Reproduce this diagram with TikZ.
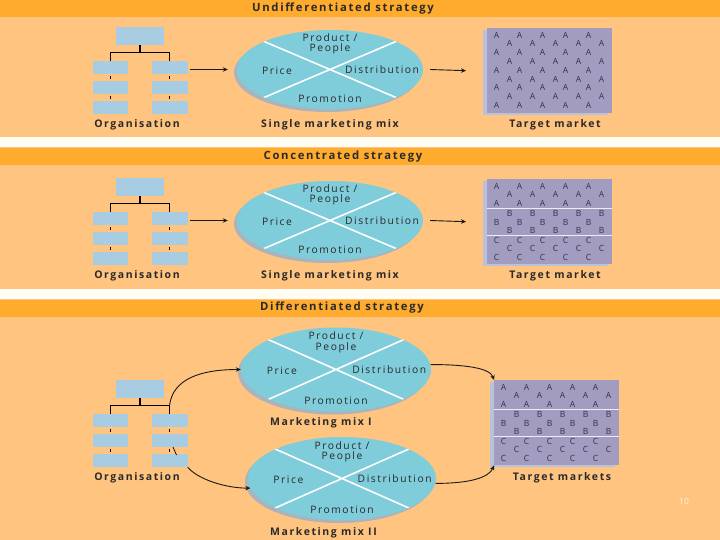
\documentclass[tikz,border=0pt]{standalone}
\usepackage{fontspec}
\setmainfont{Open Sans}[LetterSpace=15]
\newfontfamily\letfont{Open Sans}
\usetikzlibrary{shapes.geometric,calc,arrows.meta}
\definecolor{hdr}{HTML}{FFAB2D}
\definecolor{bodyc}{HTML}{FFC47F}
\definecolor{gapc}{HTML}{FFFDF3}
\definecolor{ellc}{HTML}{7FCCDA}
\definecolor{ellsh}{HTML}{A9B4BC}
\definecolor{oboxc}{HTML}{A8CCE2}
\definecolor{tboxc}{HTML}{A29CC0}
\definecolor{tshc}{HTML}{B9C2DA}
\definecolor{txt}{HTML}{2A2A2A}
\definecolor{lettc}{HTML}{33334A}
\definecolor{pgc}{HTML}{FFF1DA}
\tikzset{
 lbl/.style={font=\fontsize{10.5}{11}\selectfont\bfseries, text=txt, inner sep=0},
 ttl/.style={font=\fontsize{11.3}{12}\selectfont\bfseries, text=txt, inner sep=0},
 mixtxt/.style={font=\fontsize{10.3}{10.3}\selectfont, text=txt, inner sep=0, align=center},
 letter/.style={font=\letfont\fontsize{8.5}{8.5}\selectfont, text=lettc, inner sep=0},
 obox/.style={fill=oboxc, draw=none, inner sep=0},
 orgline/.style={draw=black, line width=1.1pt},
 mixell/.style={ellipse, fill=ellc, inner sep=0,
   preaction={fill=ellsh, transform canvas={xshift=-3pt,yshift=-3pt}},
   path picture={\draw[white, line width=1.6pt]
     (path picture bounding box.north west) -- (path picture bounding box.south east)
     (path picture bounding box.south west) -- (path picture bounding box.north east);}},
 tgt/.style={fill=tboxc, inner sep=0, minimum width=125pt, minimum height=85pt, anchor=north west,
   preaction={fill=tshc, transform canvas={xshift=-4pt,yshift=-2pt}}},
 sepline/.style={draw=white!80!tboxc, line width=0.9pt},
 arr/.style={draw=black!90, line width=0.9pt, -{Stealth[length=5pt,width=4.5pt]}},
}
% org chart: #1 prefix, #2 vertical offset
\newcommand\orgchart[2]{%
 \begin{scope}[shift={(0,#2)}]
  \node[obox, minimum width=48pt, minimum height=18pt] (#1top) at (140,36) {};
  \node[obox, minimum width=35pt, minimum height=13pt] (#1l1) at (110.5,67.5) {};
  \node[obox, minimum width=35pt, minimum height=13pt] (#1l2) at (110.5,87.5) {};
  \node[obox, minimum width=35pt, minimum height=13pt] (#1l3) at (110.5,107.5) {};
  \node[obox, minimum width=36pt, minimum height=13pt] (#1r1) at (169.5,67.5) {};
  \node[obox, minimum width=36pt, minimum height=13pt] (#1r2) at (169.5,87.5) {};
  \node[obox, minimum width=36pt, minimum height=13pt] (#1r3) at (169.5,107.5) {};
 \end{scope}
 \coordinate (#1lj) at ($(#1l1.north)+(0,-8)$);
 \coordinate (#1rj) at ($(#1r1.north)+(0,-8)$);
 \draw[orgline] (#1top.south) -- ($(#1top.south)+(0,8)$);
 \draw[orgline] (#1l1.north) -- (#1lj) -- (#1rj) -- (#1r1.north);
 \draw[orgline] ($(#1l1.south)+(0,1.5)$) -- ($(#1l2.north)+(0,-1.5)$);
 \draw[orgline] ($(#1l2.south)+(0,1.5)$) -- ($(#1l3.north)+(0,-1.5)$);
 \draw[orgline] ($(#1r1.south)+(0,1.5)$) -- ($(#1r2.north)+(0,-1.5)$);
 \draw[orgline] ($(#1r2.south)+(0,1.5)$) -- ($(#1r3.north)+(0,-1.5)$);
}
% mix texts: #1 ellipse name, #2 rx, #3 ry
\newcommand\mixtexts[3]{%
 \node[mixtxt] (#1pp) at ($(#1)+(0,{-0.645*#3})$) {Product /\\People};
 \node[mixtxt] (#1pr) at ($(#1)+({-0.57*#2},1.5)$) {Price};
 \node[mixtxt] (#1di) at ($(#1)+({0.56*#2},0.5)$) {Distribution};
 \node[mixtxt] (#1pm) at ($(#1)+(0,{0.75*#3})$) {Promotion};
}
% target grid: #1 name, #2 left, #3 top, #4 row/letter list
\newcommand\targetgrid[4]{%
 \node[tgt] (#1) at (#2,#3) {};
 \foreach \ry/\ch [count=\r from 0] in {#4} {
   \pgfmathsetmacro{\xo}{ifthenelse(mod(\r,2)==0,9.5,22.5)}
   \foreach \k in {0,...,4} {
     \node[letter] (#1-\r-\k) at ($(#1.north west)+({\xo+23*\k},\ry)$) {\ch};
   }
 }
}
\begin{document}
\begin{tikzpicture}[x=1pt,y=-1pt]
\useasboundingbox (0,0) rectangle (720,540);
\fill[bodyc] (0,0) rectangle (720,540);
\fill[hdr] (0,0) rectangle (720,17.5);
\fill[gapc] (0,137) rectangle (720,147);
\fill[hdr] (0,148) rectangle (720,165.5);
\fill[gapc] (0,289) rectangle (720,298.5);
\fill[hdr] (0,300) rectangle (720,317);

% titles
\node[ttl] (t1) at (343,9) {Undifferentiated strategy};
\node[ttl] (t2) at (343,157) {Concentrated strategy};
\node[ttl] (t3) at (342,308) {Differentiated strategy};

% ---------- panel 1
\orgchart{o1}{0}
\node[mixell, minimum width=186pt, minimum height=79pt] (p1e) at (330,69.5) {};
\mixtexts{p1e}{93}{39.5}
\targetgrid{tg1}{487}{28}{7/A,15.8/A,24.6/A,33.4/A,42.2/A,51/A,59.8/A,68.6/A,77.4/A}
\draw[arr] ($(o1r1.east |- p1e.center)+(2,0)$) -- ($(p1e.west)+(-9,0)$);
\draw[arr] ($(p1e.east)+(7,0)$) -- ($(tg1.west)+(-21,0)$);
\node[lbl] (org1) at (137,125) {Organisation};
\node[lbl] (smm1) at (330,125) {Single marketing mix};
\node[lbl] (tm1) at (555,125) {Target market};

% ---------- panel 2
\orgchart{o2}{151}
\node[mixell, minimum width=186pt, minimum height=79pt] (p2e) at (330,220.5) {};
\mixtexts{p2e}{93}{39.5}
\targetgrid{tg2}{487}{179}{7/A,15.5/A,24/A,34.5/B,43/B,51.5/B,61/C,69.5/C,78/C}
\draw[sepline] ($(tg2.north west)+(0,29.5)$) -- ($(tg2.north east)+(0,29.5)$);
\draw[sepline] ($(tg2.north west)+(0,56.3)$) -- ($(tg2.north east)+(0,56.3)$);
\draw[arr] ($(o2r1.east |- p2e.center)+(2,0)$) -- ($(p2e.west)+(-9,0)$);
\draw[arr] ($(p2e.east)+(7,0)$) -- ($(tg2.west)+(-21,0)$);
\node[lbl] (org2) at (137,276) {Organisation};
\node[lbl] (smm2) at (330,276) {Single marketing mix};
\node[lbl] (tm2) at (555,276) {Target market};

% ---------- panel 3
\orgchart{o3}{353}
\draw[black, line width=0.7pt] (173,447) -- (176.5,455);
\node[mixell, minimum width=190pt, minimum height=84pt] (e1) at (336,369.5) {};
\mixtexts{e1}{95}{42}
\node[mixell, minimum width=188pt, minimum height=83pt] (e2) at (342,478.5) {};
\mixtexts{e2}{94}{41.5}
\targetgrid{tg3}{494}{380}{7/A,15.5/A,24/A,34.5/B,43/B,51.5/B,61/C,69.5/C,78/C}
\draw[sepline] ($(tg3.north west)+(0,29.5)$) -- ($(tg3.north east)+(0,29.5)$);
\draw[sepline] ($(tg3.north west)+(0,56.3)$) -- ($(tg3.north east)+(0,56.3)$);
\draw[arr] (o3rj) .. controls +(3,-27) and +(-40,0) .. (e1.west);
\draw[arr] (o3r3.south east) .. controls +(10,12) and +(-25,0) .. (e2.186);
\draw[arr] (e1.3) .. controls +(35,0) and +(-4,-12) .. (tg3.north west);
\draw[arr] (e2.-3) .. controls +(35,0) and +(-5,12) .. (tg3.south west);
\node[lbl, anchor=west] (mm1) at (270,423) {Marketing mix I};
\node[lbl, anchor=west] (mm2) at (270,533) {Marketing mix II};
\node[lbl] (org3) at (137,478) {Organisation};
\node[lbl] (tm3) at (562,478) {Target markets};

\node[font=\letfont\fontsize{8.5}{9}\selectfont, text=pgc, inner sep=0] (pg) at (684,501) {10};
\end{tikzpicture}
\end{document}
